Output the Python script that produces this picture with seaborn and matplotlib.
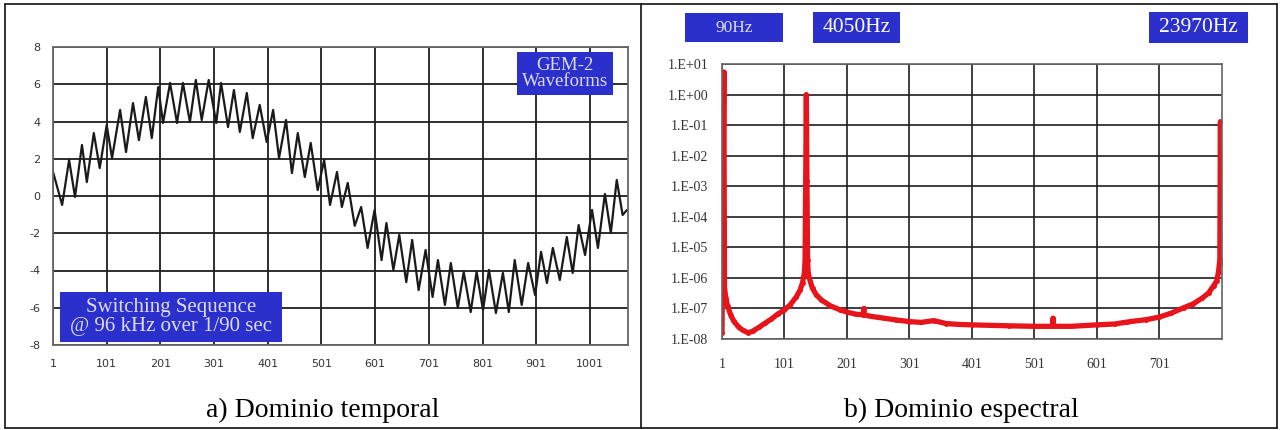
import numpy as np
import pandas as pd
import seaborn as sns
import matplotlib.pyplot as plt
from matplotlib.lines import Line2D
from matplotlib.patches import Rectangle

# time-domain waveform: samples read at the ripple peaks/troughs
wave_n = [1, 18, 31, 42, 55, 64, 77, 88, 101, 111,
          126, 137, 150, 161, 174, 185, 197, 206, 219, 232,
          243, 256, 267, 278, 291, 305, 314, 327, 338, 349,
          362, 373, 386, 399, 411, 422, 435, 446, 457, 470,
          481, 494, 506, 517, 530, 539, 550, 563, 575, 587,
          600, 613, 622, 635, 646, 659, 670, 682, 695, 708,
          718, 731, 742, 755, 766, 779, 790, 802, 813, 826,
          839, 850, 861, 874, 886, 899, 910, 921, 932, 945,
          958, 969, 980, 992, 1005, 1016, 1029, 1040, 1051, 1062,
          1070]
wave_v = [1.3, -0.48, 1.93, -0.05, 2.74, 0.75, 3.38, 1.5, 3.81, 2.04,
          4.62, 2.36, 4.99, 3.0, 5.32, 3.11, 5.85, 3.92, 6.07, 3.92,
          6.07, 3.97, 6.23, 4.08, 6.23, 3.92, 6.07, 3.7, 5.69, 3.44,
          5.53, 3.11, 4.89, 2.9, 4.62, 2.04, 4.08, 1.23, 3.38, 1.02,
          2.85, 0.32, 1.93, -0.48, 1.29, -0.59, 0.70, -1.6, -0.59, -2.79,
          -0.75, -3.44, -1.45, -3.97, -2.09, -4.62, -2.36, -5.05, -2.9, -5.42,
          -3.44, -5.85, -3.6, -6.01, -4.08, -6.23, -4.08, -6.12, -3.97, -6.28,
          -4.13, -6.23, -3.44, -5.85, -3.6, -5.32, -3.0, -4.67, -2.79, -4.51,
          -2.2, -4.13, -1.56, -3.17, -0.75, -2.79, 0.11, -1.99, 0.86, -1.02,
          -0.75]

# spectrum: bin index vs amplitude
spec_bin = [1, 4, 5, 7, 10, 15, 20, 28, 35, 43,
            50, 60, 70, 80, 90, 101, 110, 120, 126, 130,
            133, 134, 135, 136, 137, 138, 139, 142, 146, 152,
            160, 175, 190, 201, 215, 227, 228, 229, 240, 260,
            280, 301, 320, 340, 360, 380, 401, 430, 460, 501,
            530, 531, 532, 560, 601, 630, 650, 680, 701, 720,
            740, 755, 770, 780, 788, 793, 796, 798, 799, 800]
spec_v = [1.6e-8, 5.5, 5e-7, 2.2e-7, 1.2e-7, 6e-8, 3.8e-8, 2.4e-8, 1.9e-8, 1.6e-8,
          1.8e-8, 2.4e-8, 3.3e-8, 4.5e-8, 6.5e-8, 9e-8, 1.3e-7, 2.4e-7, 4e-7, 7e-7,
          1.5e-6, 3.8e-6, 1.5e-3, 1.0, 1.5e-3, 3.8e-6, 1.5e-6, 8e-7, 4.5e-7, 2.8e-7,
          1.9e-7, 1.2e-7, 9e-8, 7.6e-8, 6.5e-8, 6.2e-8, 1e-7, 6.1e-8, 5.5e-8, 4.8e-8,
          4.2e-8, 3.7e-8, 3.5e-8, 4e-8, 3.2e-8, 3e-8, 2.9e-8, 2.8e-8, 2.7e-8, 2.6e-8,
          2.6e-8, 4.8e-8, 2.6e-8, 2.6e-8, 2.9e-8, 3.1e-8, 3.6e-8, 4.3e-8, 5.2e-8, 7e-8,
          1.05e-7, 1.4e-7, 2.2e-7, 3.2e-7, 5.5e-7, 8e-7, 1.6e-6, 4e-6, 0.13, 3e-6]

left_xticks = [1, 101, 201, 301, 401, 501, 601, 701, 801, 901, 1001]
right_xticks = [1, 101, 201, 301, 401, 501, 601, 701]
left_yticks = [-8, -6, -4, -2, 0, 2, 4, 6, 8]
decades = [-8, -7, -6, -5, -4, -3, -2, -1, 0, 1]

sns.set_style('white')
plt.rcParams['axes.unicode_minus'] = False
W, H = 1286, 430
fig = plt.figure(figsize=(W / 100, H / 100), dpi=100)

def fx(px):
    return px / W

def fy(py):
    return 1 - py / H

grid_col = '#1e1e1e'
box_col = '#2b2fcc'

# ---- left: time domain ----
ax1 = fig.add_axes([fx(53), fy(345), fx(628) - fx(53), fy(47) - fy(345)])
df_w = pd.DataFrame({'n': wave_n, 'v': wave_v})
sns.lineplot(data=df_w, x='n', y='v', ax=ax1, color='#1a1a1a', linewidth=1.6)
ax1.set_xlim(1, 1072)
ax1.set_ylim(-8, 8)
ax1.set_xticks(left_xticks)
ax1.set_yticks(left_yticks)
ax1.grid(True, color=grid_col, linewidth=1.3)
ax1.set_axisbelow(True)
ax1.set_xlabel('')
ax1.set_ylabel('')
ax1.tick_params(length=0, labelsize=8, colors='#333333')
ax1.tick_params(axis='x', pad=10)
ax1.tick_params(axis='y', pad=9)
for s in ax1.spines.values():
    s.set_color('#666666')
    s.set_linewidth(1.3)

# ---- right: spectrum ----
ax2 = fig.add_axes([fx(722), fy(339), fx(1222) - fx(722), fy(64) - fy(339)])
df_s = pd.DataFrame({'bin': spec_bin, 'amp': spec_v})
sns.lineplot(data=df_s, x='bin', y='amp', ax=ax2, color='#e8141b',
             linewidth=3.8, marker='o', markersize=3.5, markeredgewidth=0)
ax2.set_yscale('log')
ax2.set_xlim(1, 801.5)
ax2.set_ylim(1e-8, 1e1)
ax2.set_xticks(right_xticks)
ax2.set_yticks([10.0 ** d for d in decades])
ax2.set_yticklabels(['1.E%s%02d' % ('+' if d >= 0 else '-', abs(d)) for d in decades])
ax2.minorticks_off()
ax2.grid(True, color=grid_col, linewidth=1.2)
ax2.set_axisbelow(True)
ax2.set_xlabel('')
ax2.set_ylabel('')
ax2.tick_params(length=0, colors='#333333')
ax2.tick_params(axis='x', pad=14, labelsize=10)
ax2.tick_params(axis='y', pad=10, labelsize=10)
for lab in ax2.get_yticklabels() + ax2.get_xticklabels():
    lab.set_family('Liberation Serif')
for s in ax2.spines.values():
    s.set_color('#666666')
    s.set_linewidth(1.2)

# ---- blue label boxes ----
def label_box(x0, y0, x1, y1, text, size, color='#dcdcf0', weight='normal', ls=1.1):
    fig.add_artist(Rectangle((fx(x0), fy(y1)), fx(x1) - fx(x0), fy(y0) - fy(y1),
                             transform=fig.transFigure, facecolor=box_col,
                             edgecolor='none', zorder=5))
    fig.text(fx((x0 + x1) / 2), fy((y0 + y1) / 2), text, ha='center', va='center',
             family='Liberation Serif', fontsize=size, color=color, weight=weight,
             linespacing=ls, zorder=6)

label_box(517, 52, 613, 95, 'GEM-2\nWaveforms', 13.5, ls=1.0)
label_box(60, 292, 282, 342, 'Switching Sequence\n@ 96 kHz over 1/90 sec', 15, ls=1.05)
label_box(685, 13, 783, 42, '90Hz', 12.5)
label_box(813, 12, 900, 43, '4050Hz', 15.5, color='white')
label_box(1149, 12, 1248, 43, '23970Hz', 15.5, color='white')

# ---- captions ----
fig.text(fx(323), fy(410), 'a) Dominio temporal', ha='center', va='center',
         family='Liberation Serif', fontsize=20, color='black')
fig.text(fx(961), fy(410), 'b) Dominio espectral', ha='center', va='center',
         family='Liberation Serif', fontsize=20, color='black')

# ---- table borders ----
bx0, bx1, by0, by1 = fx(5), fx(1277), fy(4), fy(428)
for xs, ys in [([bx0, bx1], [by0, by0]), ([bx0, bx1], [by1, by1]),
               ([bx0, bx0], [by0, by1]), ([bx1, bx1], [by0, by1]),
               ([fx(641), fx(641)], [by0, by1])]:
    fig.add_artist(Line2D(xs, ys, transform=fig.transFigure, color='#111111', linewidth=1.2))

fig.savefig('out.png', dpi=100)
